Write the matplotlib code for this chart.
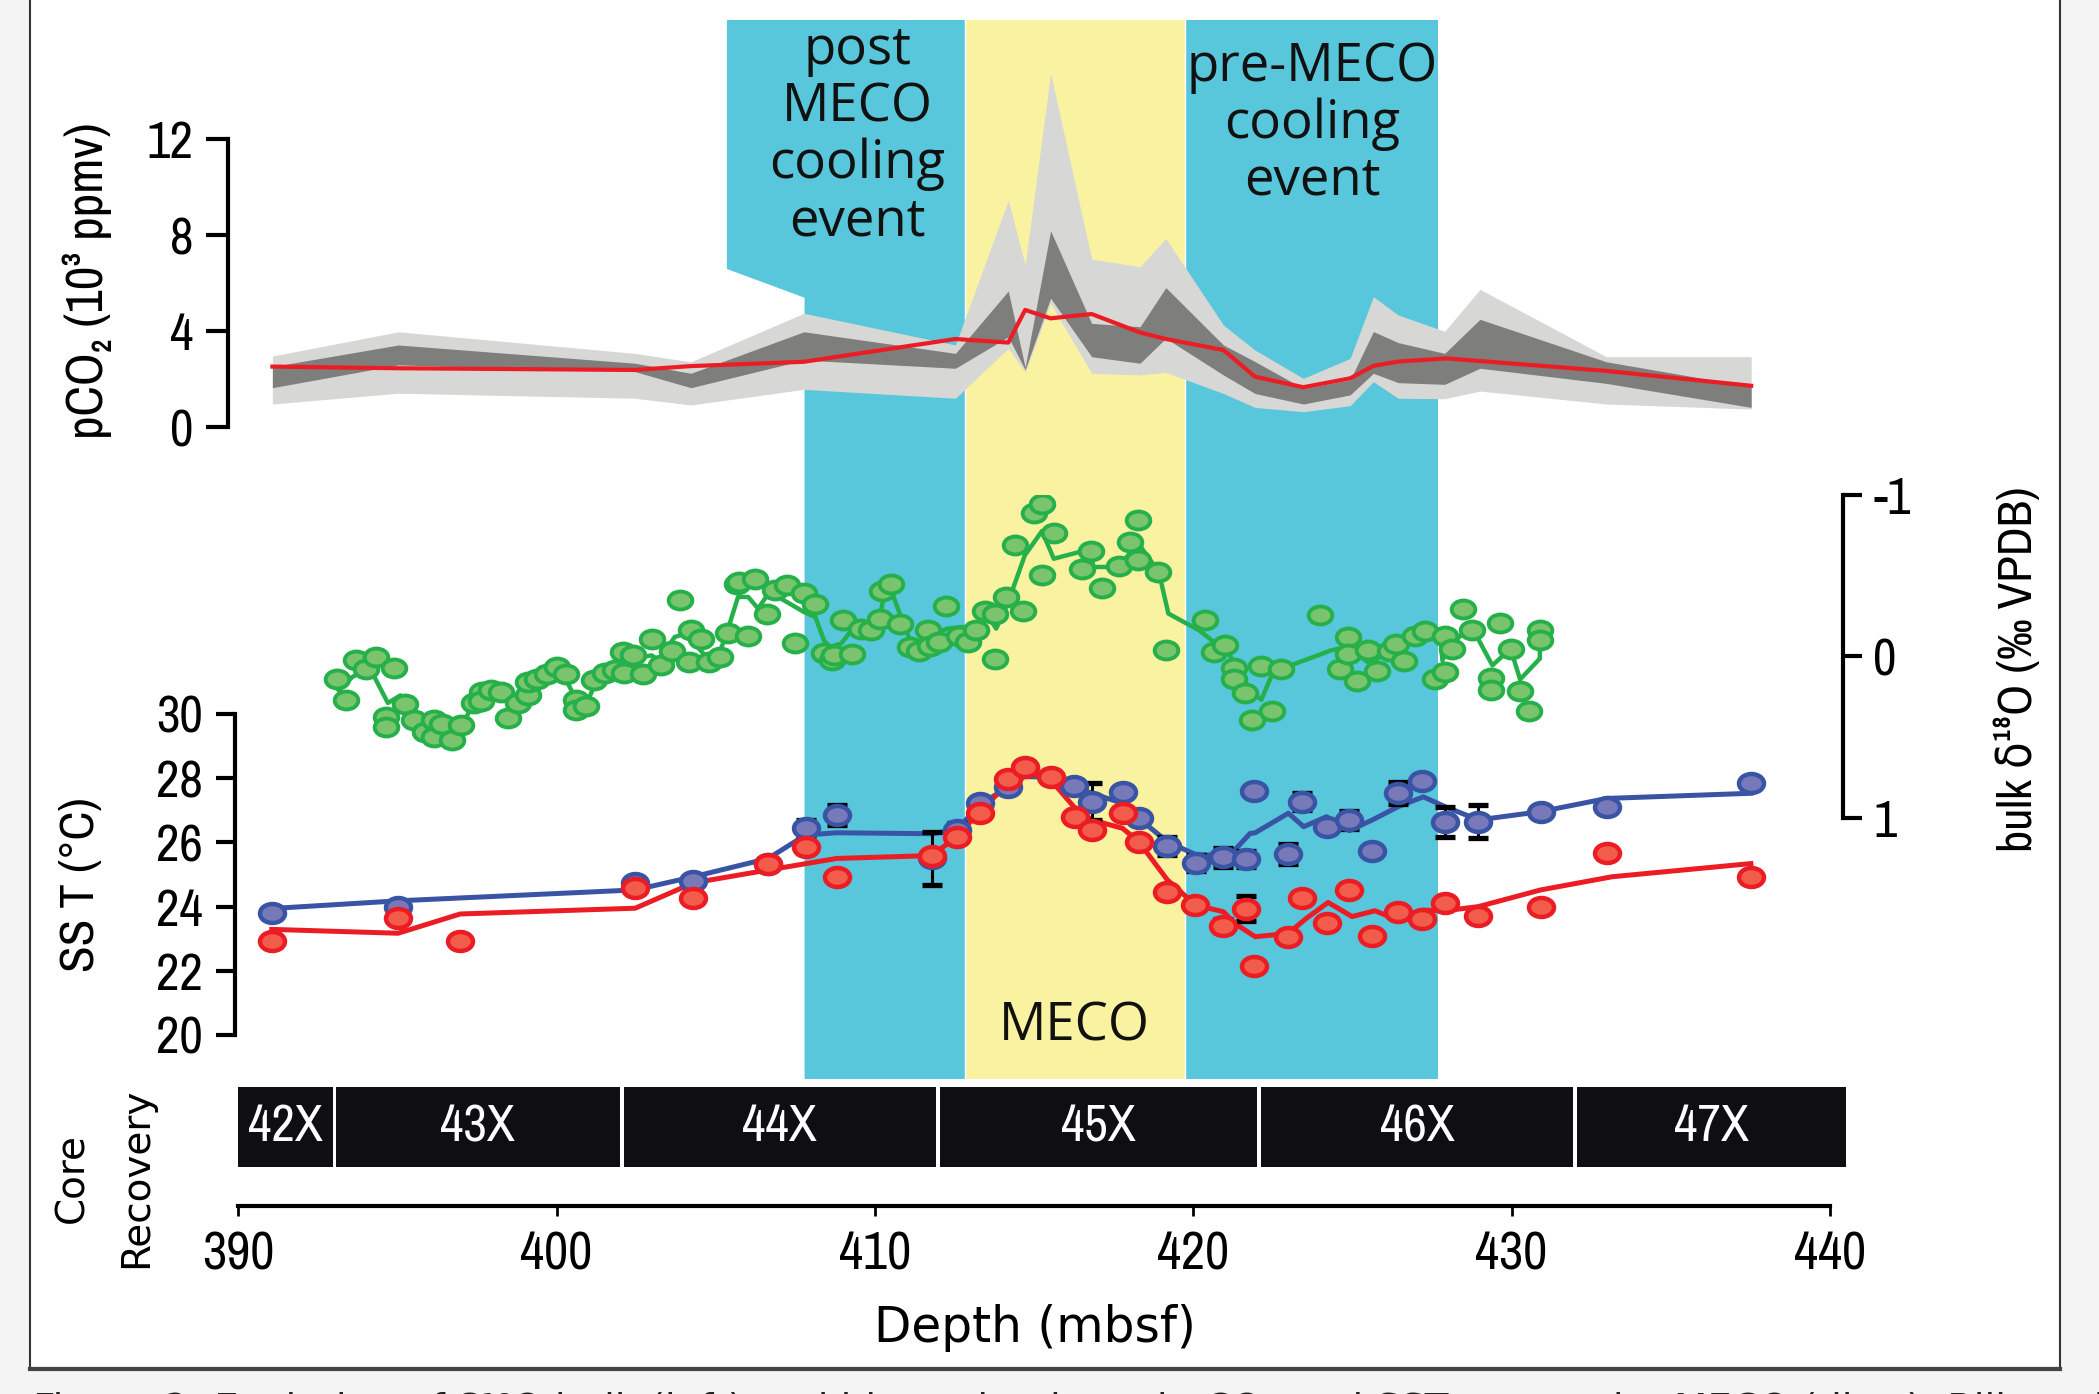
import matplotlib
matplotlib.use("Agg")
import matplotlib.pyplot as plt
from matplotlib import font_manager as fm
from matplotlib.path import Path
from matplotlib.transforms import Affine2D
from matplotlib.markers import MarkerStyle
from matplotlib.patches import Polygon, Rectangle
from matplotlib.lines import Line2D

# ---------------- data ----------------
# pCO2 envelope (10^3 ppmv)
co2_depth = [391.07, 395.03, 402.46, 404.22, 407.77, 412.53, 414.19, 414.72, 415.52, 416.81, 418.33,
             419.14, 420.95, 421.94, 423.46, 424.93, 425.66, 426.44, 427.90, 429.01, 432.98, 437.53]
co2_light_hi = [2.97, 3.98, 3.08, 2.73, 4.75, 3.43, 9.47, 6.76, 14.75, 7.01, 6.69,
                7.87, 4.26, 3.22, 2.04, 2.87, 5.44, 4.68, 4.00, 5.75, 2.94, 2.94]
co2_dark_hi = [2.53, 3.43, 2.67, 2.25, 3.98, 3.08, 5.68, 2.50, 8.19, 4.33, 4.19,
               5.82, 3.43, 2.74, 1.62, 1.97, 3.99, 3.53, 3.08, 4.50, 2.73, 1.69]
co2_dark_lo = [1.65, 2.60, 2.32, 1.65, 2.80, 2.46, 3.77, 2.40, 5.38, 2.94, 2.67,
               3.71, 2.18, 1.41, 0.97, 1.35, 2.25, 1.86, 1.79, 2.46, 1.83, 0.83]
co2_light_lo = [0.97, 1.42, 1.21, 0.93, 1.58, 1.21, 3.29, 2.30, 5.16, 2.25, 2.18,
                2.29, 1.41, 0.83, 0.65, 0.90, 1.90, 1.21, 1.19, 1.51, 0.97, 0.76]
co2_mean_depth = [391.07, 395.03, 402.46, 404.22, 407.77, 412.53, 414.19, 414.72, 415.52, 416.81, 418.33,
                  419.14, 420.95, 421.94, 423.46, 424.93, 425.66, 426.44, 427.96, 432.98, 437.53]
co2_mean = [2.53, 2.46, 2.39, 2.55, 2.73, 3.68, 3.53, 4.89, 4.54, 4.72, 3.95,
            3.68, 3.22, 2.11, 1.67, 2.04, 2.56, 2.74, 2.87, 2.35, 1.73]

# bulk d18O (permil VPDB)
d18o_depth = [393.11, 393.38, 393.70, 394.01, 394.34, 394.88, 394.64, 394.64, 395.24, 395.51, 395.87,
              396.14, 396.14, 396.41, 396.72, 397.00, 397.40, 397.67, 397.64, 397.94, 398.25, 398.48,
              398.79, 399.11, 399.11, 399.39, 399.71, 400.02, 400.29, 400.61, 400.61, 400.92, 401.19,
              401.51, 401.82, 402.09, 402.13, 402.41, 402.72, 402.99, 403.28, 403.62, 403.89, 404.16,
              404.22, 404.53, 404.80, 405.12, 405.37, 405.66, 405.73, 406.02, 406.24, 406.60, 406.87,
              407.23, 407.50, 407.77, 408.13, 408.40, 408.64, 408.73, 409.00, 409.27, 409.57, 409.88,
              410.17, 410.21, 410.51, 410.78, 411.11, 411.38, 411.68, 411.74, 412.01, 412.24, 412.64,
              412.91, 413.18, 413.45, 413.76, 413.76, 414.11, 414.39, 414.66, 415.01, 415.24, 415.26,
              415.63, 416.50, 416.78, 417.13, 417.66, 418.00, 418.28, 418.28, 418.90, 419.13, 420.37,
              420.65, 420.99, 421.27, 421.27, 421.62, 421.85, 422.14, 422.49, 422.77, 423.99, 424.61,
              424.86, 424.86, 425.14, 425.48, 425.76, 426.17, 426.36, 426.63, 426.98, 427.28, 427.60,
              427.90, 427.90, 428.13, 428.48, 428.75, 429.35, 429.35, 429.63, 429.97, 430.27, 430.55,
              430.89, 430.89]
d18o = [0.143, 0.269, 0.025, 0.081, 0.004, 0.070, 0.376, 0.438, 0.294, 0.393, 0.469,
        0.397, 0.500, 0.418, 0.521, 0.428, 0.289, 0.221, 0.277, 0.207, 0.221, 0.382,
        0.289, 0.238, 0.159, 0.139, 0.107, 0.066, 0.107, 0.273, 0.335, 0.310, 0.145,
        0.103, 0.087, -0.027, 0.103, -0.006, 0.112, -0.110, 0.056, -0.033, -0.351, 0.035,
        -0.165, -0.110, 0.035, 0.004, -0.145, -0.451, -0.461, -0.124, -0.482, -0.260, -0.409,
        -0.440, -0.083, -0.393, -0.322, -0.021, 0.025, -0.006, -0.227, -0.017, -0.172, -0.161,
        -0.234, -0.405, -0.446, -0.198, -0.058, -0.033, -0.161, -0.062, -0.089, -0.312, -0.124,
        -0.089, -0.165, -0.281, -0.260, 0.017, -0.368, -0.688, -0.281, -0.889, -0.942, -0.502,
        -0.765, -0.544, -0.653, -0.426, -0.558, -0.709, -0.599, -0.847, -0.523, -0.037, -0.227,
        -0.027, -0.072, 0.070, 0.143, 0.225, 0.397, 0.062, 0.339, 0.081, -0.254, 0.081,
        -0.120, -0.017, 0.153, -0.037, 0.091, -0.033, -0.074, 0.031, -0.126, -0.157, 0.143,
        -0.124, 0.097, -0.048, -0.291, -0.165, 0.132, 0.207, -0.207, -0.048, 0.215, 0.339,
        -0.165, -0.099]
d18o_line_depth = [393.16, 393.58, 394.07, 394.25, 394.70, 395.09, 395.33, 395.87, 396.50, 397.04, 397.49,
                   397.94, 398.75, 399.02, 399.39, 400.02, 400.20, 400.65, 400.92, 401.28, 401.73, 402.41,
                   402.99, 403.21, 403.71, 404.07, 404.61, 404.80, 405.07, 405.34, 405.70, 406.02, 406.33,
                   406.69, 406.96, 407.32, 407.77, 408.13, 408.40, 408.58, 408.94, 409.39, 409.84, 410.17,
                   410.30, 410.53, 410.78, 411.11, 411.38, 411.68, 412.28, 412.73, 413.27, 413.54, 413.81,
                   414.17, 414.71, 415.25, 415.62, 416.70, 416.88, 417.60, 417.96, 418.23, 418.39, 418.92,
                   419.22, 420.19, 420.65, 420.99, 421.80, 422.14, 422.49, 422.77, 423.64, 424.33, 424.86,
                   425.48, 425.71, 426.29, 426.86, 427.28, 427.78, 427.83, 428.01, 428.48, 428.75, 429.40,
                   429.97, 430.27, 430.89, 430.89]
d18o_line = [0.211, 0.128, 0.077, 0.118, 0.289, 0.242, 0.324, 0.418, 0.428, 0.418, 0.262,
             0.211, 0.283, 0.200, 0.149, 0.087, 0.107, 0.283, 0.304, 0.139, 0.087, 0.014,
             -0.006, 0.025, -0.120, -0.141, -0.017, 0.025, 0.004, -0.141, -0.368, -0.368, -0.296,
             -0.399, -0.368, -0.327, -0.275, -0.244, -0.099, -0.058, -0.079, -0.192, -0.182, -0.254,
             -0.399, -0.399, -0.265, -0.099, -0.089, -0.130, -0.172, -0.182, -0.161, -0.254, -0.172,
             -0.327, -0.626, -0.777, -0.605, -0.661, -0.554, -0.554, -0.626, -0.736, -0.668, -0.523,
             -0.265, -0.161, -0.089, -0.058, 0.211, 0.269, 0.107, 0.077, 0.014, -0.037, -0.058,
             0.035, 0.025, -0.058, -0.099, -0.161, -0.079, 0.025, -0.058, -0.141, -0.182, 0.056,
             -0.048, 0.143, 0.014, -0.120]

# SST (deg C), blue and red records
sst_b_depth = [391.05, 395.02, 402.47, 404.30, 406.65, 407.82, 408.80, 411.79, 412.57, 413.29, 414.19,
               416.25, 416.81, 417.78, 418.29, 419.19, 420.10, 420.95, 421.66, 421.91, 422.99, 423.42,
               424.19, 424.91, 425.63, 426.43, 427.20, 427.92, 428.96, 430.92, 433.00, 437.52]
sst_b = [23.81, 23.98, 24.73, 24.81, 25.33, 26.44, 26.85, 25.50, 26.39, 27.24, 27.74,
         27.76, 27.27, 27.56, 26.75, 25.89, 25.37, 25.54, 25.48, 27.61, 25.64, 27.27,
         26.47, 26.70, 25.73, 27.55, 27.91, 26.64, 26.64, 26.96, 27.11, 27.86]
sst_b_err = [0, 0.05, 0.1, 0.15, 0, 0.25, 0.3, 0.82, 0.2, 0.15, 0.1,
             0, 0.58, 0.1, 0, 0.29, 0.25, 0.3, 0.25, 0.05, 0.32, 0.26,
             0, 0.27, 0, 0.34, 0.05, 0.47, 0.51, 0, 0, 0]
sst_b_line_depth = [391.05, 395.02, 402.47, 404.30, 406.65, 407.82, 408.80, 411.79, 412.57, 413.29, 414.70,
                    415.53, 416.25, 416.81, 417.78, 418.29, 419.19, 420.10, 420.95, 421.30, 421.79, 421.95,
                    422.99, 423.47, 424.19, 424.91, 425.63, 426.43, 427.23, 427.92, 428.96, 430.92, 433.00,
                    437.52]
sst_b_line = [23.94, 24.18, 24.52, 24.93, 25.50, 26.23, 26.30, 26.27, 26.39, 27.17, 28.05,
              28.03, 27.74, 27.53, 27.22, 26.75, 26.02, 25.61, 25.61, 25.76, 26.28, 26.30,
              26.91, 26.49, 26.80, 26.37, 26.70, 27.11, 27.42, 27.11, 26.70, 26.96, 27.37,
              27.53]
sst_r_depth = [391.05, 395.02, 396.97, 402.47, 404.30, 406.65, 407.82, 408.80, 411.79, 412.57, 413.29,
               414.19, 414.73, 415.53, 416.30, 416.81, 417.78, 418.29, 419.19, 420.07, 420.95, 421.66,
               421.91, 422.99, 423.42, 424.19, 424.91, 425.63, 426.43, 427.20, 427.92, 428.96, 430.92,
               433.00, 437.52]
sst_r = [22.94, 23.64, 22.94, 24.57, 24.26, 25.33, 25.85, 24.93, 25.59, 26.18, 26.92,
         27.97, 28.34, 28.03, 26.80, 26.39, 26.91, 26.02, 24.46, 24.05, 23.40, 23.94,
         22.15, 23.04, 24.26, 23.48, 24.52, 23.08, 23.84, 23.60, 24.12, 23.71, 23.99,
         25.67, 24.93]
sst_r_err = [0, 0, 0.05, 0, 0, 0, 0.15, 0.1, 0, 0, 0,
             0, 0.05, 0, 0, 0, 0, 0, 0, 0, 0.2, 0.39,
             0, 0, 0.1, 0, 0.1, 0, 0, 0, 0, 0, 0,
             0.05, 0]
sst_r_line_depth = [391.05, 395.02, 396.97, 402.47, 404.30, 406.65, 408.80, 411.79, 412.57, 413.29, 414.19,
                    414.70, 415.53, 416.25, 416.81, 417.78, 418.29, 419.19, 420.07, 420.95, 421.30, 421.95,
                    422.99, 423.55, 424.24, 424.99, 425.71, 426.43, 427.23, 427.92, 428.96, 430.92, 433.16,
                    437.52]
sst_r_line = [23.29, 23.17, 23.77, 23.95, 24.74, 25.14, 25.50, 25.59, 26.18, 26.96, 27.84,
              28.26, 27.94, 27.11, 26.70, 26.44, 26.02, 24.83, 24.05, 23.84, 23.48, 23.06,
              23.17, 23.63, 24.13, 23.69, 23.87, 23.58, 23.89, 23.87, 24.00, 24.52, 24.93,
              25.34]

# cores
core_names = ['42X', '43X', '44X', '45X', '46X', '47X']
core_top = [390.0, 393.07, 402.11, 412.04, 422.13, 432.05]
core_bottom = [392.99, 401.98, 411.91, 422.00, 431.93, 440.50]

# intervals (mbsf)
post_meco = (407.79, 412.83)
post_label_left = 405.35
meco = (412.83, 419.73)
pre_meco = (419.73, 427.68)

depth_ticks = [390, 400, 410, 420, 430, 440]

# ---------------- fonts ----------------
def pick_condensed():
    # look for a narrow / condensed regular face among installed fonts
    best = None
    for f in fm.fontManager.ttflist:
        nm = (f.name + ' ' + f.fname).lower()
        if f.style != 'normal':
            continue
        w = f.weight if isinstance(f.weight, int) else {'normal': 400, 'regular': 400}.get(str(f.weight), 0)
        if w != 400:
            continue
        st = str(f.stretch)
        if 'narrow' in nm or st in ('condensed', 'semi-condensed') or \
                ('condensed' in nm and 'extra' not in nm and 'ultra' not in nm and 'semi' not in nm):
            rank = 0 if 'narrow' in nm else (1 if 'dejavu' in nm else 2)
            if best is None or rank < best[0]:
                best = (rank, f.name, st)
    return best


cond = pick_condensed()
if cond is not None:
    COND = dict(family=[cond[1], 'DejaVu Sans'], stretch=cond[2])
    CS = 1.0
else:
    COND = dict(family=['DejaVu Sans'])
    CS = 0.78

# ---------------- layout ----------------
W, H = 2099, 1394
PX_PER_M = 31.83
X390 = 238.3
XLIM = (390 - X390 / PX_PER_M, 390 + (W - X390) / PX_PER_M)

plt.rcParams['font.family'] = ['DejaVu Sans']

CYAN = '#58c7db'
YELLOW = '#f9f3a1'
GREEN = '#26b04a'
GREEN_FACE = '#7ac46e'
BLUE = '#3a54a5'
BLUE_FACE = '#7879b9'
RED = '#ec1c24'
RED_FACE = '#f15c4b'

fig = plt.figure(figsize=(W / 100, H / 100), dpi=100, facecolor='#f4f4f4')

# page box
fig.patches.append(Rectangle((29.5 / W, 1 - 1368 / H), (2059.7 - 29.5) / W, 1380 / H,
                             transform=fig.transFigure, facecolor='white',
                             edgecolor='#333333', lw=1.5, zorder=0))
fig.lines.append(Line2D([29.5 / W, 2059.7 / W], [1 - 1369 / H] * 2, transform=fig.transFigure,
                        color='#444444', lw=3))


def row_axes(top, bottom, z=2):
    a = fig.add_axes([0, 1 - bottom / H, 1, (bottom - top) / H], zorder=z)
    a.set_xlim(*XLIM)
    a.patch.set_visible(False)
    for s in a.spines.values():
        s.set_visible(False)
    a.set_xticks([])
    a.set_yticks([])
    return a


def left_axis(a, pos, ticks, length):
    sp = a.spines['left']
    sp.set_visible(True)
    sp.set_position(('data', pos))
    sp.set_linewidth(3)
    sp.set_capstyle('projecting')
    a.set_yticks(ticks)
    a.set_yticklabels([str(t) for t in ticks], fontsize=37 * CS, **COND)
    a.tick_params(axis='y', length=length, width=3, pad=9)


# background axes: x = depth, y = pixel row
bg = fig.add_axes([0, 0, 1, 1], zorder=1)
bg.set_xlim(*XLIM)
bg.set_ylim(H, 0)
bg.axis('off')
bg.patch.set_visible(False)

band_top, band_bottom = 20, 1079
bg.add_patch(Polygon([(post_label_left, band_top), (post_meco[1], band_top), (post_meco[1], band_bottom),
                      (post_meco[0], band_bottom), (post_meco[0], 297.7), (post_label_left, 269)],
                     closed=True, facecolor=CYAN, edgecolor='none'))
bg.add_patch(Rectangle((meco[0], band_top), meco[1] - meco[0], band_bottom - band_top,
                       facecolor=YELLOW, edgecolor='none'))
bg.add_patch(Rectangle((pre_meco[0], band_top), pre_meco[1] - pre_meco[0], band_bottom - band_top,
                       facecolor=CYAN, edgecolor='none'))
for xb in (meco[0], meco[1]):
    bg.plot([xb, xb], [band_top, band_bottom], color='white', lw=1)

label_font = dict(family=['Open Sans', 'DejaVu Sans'], fontsize=38, color='#111111',
                  ha='center', va='center', linespacing=1.09)
bg.text(409.45, 136, 'post\nMECO\ncooling\nevent', **label_font)
bg.text(423.75, 124, 'pre-MECO\ncooling\nevent', **label_font)
bg.text(sum(meco) / 2, 1027, 'MECO', **label_font)

# ---- pCO2 panel ----
ax_c = row_axes(139.3, 427.3)
ax_c.set_ylim(0, 12)
ax_c.fill_between(co2_depth, co2_light_lo, co2_light_hi, color='#d7d7d6', lw=0, clip_on=False)
ax_c.fill_between(co2_depth, co2_dark_lo, co2_dark_hi, color='#7e7e7d', lw=0, clip_on=False)
ax_c.plot(co2_mean_depth, co2_mean, color=RED, lw=3, clip_on=False)
left_axis(ax_c, 389.68, [0, 4, 8, 12], 16)
bg.text(XLIM[0] + 87 / PX_PER_M, 281, 'pCO\u2082 (10\u00b3 ppmv)', rotation=90,
        fontsize=37 * CS, ha='center', va='center', **COND)

# ---- d18O panel ----
ell = Path.unit_circle().transformed(Affine2D().scale(1.0, 0.76))
ELL = MarkerStyle(ell)

ax_o = row_axes(495, 817.7, z=3)
ax_o.set_ylim(1, -1)
ax_o.plot(d18o_line_depth, d18o_line, color=GREEN, lw=3.2, zorder=2)
ax_o.plot(d18o_depth, d18o, ls='none', marker=ELL, ms=17, mfc=GREEN_FACE, mec=GREEN, mew=2.8, zorder=3)
sp = ax_o.spines['right']
sp.set_visible(True)
sp.set_position(('data', 440.40))
sp.set_linewidth(3)
sp.set_capstyle('projecting')
ax_o.yaxis.tick_right()
ax_o.set_yticks([-1, 0, 1])
ax_o.set_yticklabels(['-1', '0', '1'], fontsize=37 * CS, **COND)
ax_o.tick_params(axis='y', length=14, width=3, pad=8)
bg.text(XLIM[0] + 2017 / PX_PER_M, 669, 'bulk \u03b4\u00b9\u2078O (\u2030 VPDB)', rotation=90,
        fontsize=35 * CS, ha='center', va='center', **COND)

# ---- SST panel ----
ax_s = row_axes(714, 1035, z=4)
ax_s.set_ylim(20, 30)
ax_s.plot(sst_b_line_depth, sst_b_line, color=BLUE, lw=3.6, zorder=2)
ax_s.plot(sst_r_line_depth, sst_r_line, color=RED, lw=3.6, zorder=2)
ax_s.errorbar(sst_b_depth, sst_b, yerr=sst_b_err, fmt='none', ecolor='black', elinewidth=2.2,
              capsize=7.5, capthick=3.8, zorder=3)
ax_s.errorbar(sst_r_depth, sst_r, yerr=sst_r_err, fmt='none', ecolor='black', elinewidth=2.2,
              capsize=7.5, capthick=3.8, zorder=3)
ax_s.plot(sst_b_depth, sst_b, ls='none', marker=ELL, ms=18, mfc=BLUE_FACE, mec=BLUE, mew=3.2, zorder=4)
ax_s.plot(sst_r_depth, sst_r, ls='none', marker=ELL, ms=18, mfc=RED_FACE, mec=RED, mew=3.2, zorder=5)
left_axis(ax_s, 389.90, [20, 22, 24, 26, 28, 30], 14)
bg.text(XLIM[0] + 80 / PX_PER_M, 885, 'SS T (\u00b0C)', rotation=90,
        fontsize=35 * CS, ha='center', va='center', **COND)

# ---- core recovery ----
ax_k = row_axes(1086.7, 1166.7, z=2)
ax_k.set_ylim(0, 1)
for name, t, b in zip(core_names, core_top, core_bottom):
    ax_k.add_patch(Rectangle((t, 0), b - t, 1, facecolor='#0f0e13', edgecolor='none'))
    ax_k.text((t + b) / 2, 0.5, name, color='white', fontsize=37 * CS, ha='center', va='center', **COND)
bg.text(XLIM[0] + 104 / PX_PER_M, 1178, 'Core\nRecovery', rotation=90, fontsize=28,
        family=['DejaVu Sans'], ha='center', va='center', linespacing=1.85, multialignment='center')

# ---- depth axis ----
ax_d = fig.add_axes([0, 1 - 1205.7 / H, 1, 0.001], zorder=2)
ax_d.set_xlim(*XLIM)
ax_d.patch.set_visible(False)
for k in ('left', 'right', 'top'):
    ax_d.spines[k].set_visible(False)
ax_d.spines['bottom'].set_bounds(390, 440)
ax_d.spines['bottom'].set_linewidth(3)
ax_d.set_yticks([])
ax_d.set_xticks(depth_ticks)
ax_d.set_xticklabels([str(t) for t in depth_ticks], fontsize=38 * CS, **COND)
ax_d.tick_params(axis='x', length=7, width=2, pad=11)
bg.text(XLIM[0] + 1035 / PX_PER_M, 1328, 'Depth (mbsf)', fontsize=35,
        family=['DejaVu Sans'], ha='center', va='center')

# caption (cut off by the page edge, as in the source)
fig.text(33 / W, 1 - 1392 / H,
         'Figure 2: Evolution of \u03b4\u00b9\u2078O bulk (left) and biomarker-based pCO\u2082 and SST across the MECO (ditto); Bijl et al. 2010',
         fontsize=28, family=['DejaVu Sans'], va='top', ha='left', color='#222222')

fig.savefig('out.png', dpi=100, facecolor=fig.get_facecolor())
